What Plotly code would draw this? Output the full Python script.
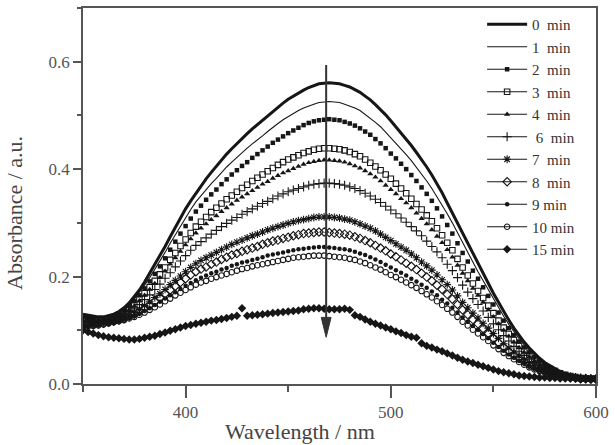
import plotly.graph_objects as go

# ---------------- data ----------------
wavelength = [350, 352.5, 355, 357.5, 360, 362.5, 365, 367.5, 370, 372.5,
              375, 377.5, 380, 382.5, 385, 387.5, 390, 392.5, 395, 397.5,
              400, 402.5, 405, 407.5, 410, 412.5, 415, 417.5, 420, 422.5,
              425, 427.5, 430, 432.5, 435, 437.5, 440, 442.5, 445, 447.5,
              450, 452.5, 455, 457.5, 460, 462.5, 465, 467.5, 470, 472.5,
              475, 477.5, 480, 482.5, 485, 487.5, 490, 492.5, 495, 497.5,
              500, 502.5, 505, 507.5, 510, 512.5, 515, 517.5, 520, 522.5,
              525, 527.5, 530, 532.5, 535, 537.5, 540, 542.5, 545, 547.5,
              550, 552.5, 555, 557.5, 560, 562.5, 565, 567.5, 570, 572.5,
              575, 577.5, 580, 582.5, 585, 587.5, 590, 592.5, 595, 597.5, 600]

abs_0min = [.130, .128, .126, .125, .125, .127, .130, .135, .142, .151,
            .162, .175, .190, .206, .222, .239, .256, .274, .292, .309,
            .326, .341, .355, .369, .382, .394, .406, .417, .428, .438,
            .448, .457, .466, .475, .483, .492, .500, .508, .516, .523,
            .530, .536, .542, .547, .552, .556, .559, .560, .561, .560,
            .559, .556, .553, .548, .543, .536, .529, .520, .511, .501,
            .490, .479, .468, .456, .444, .431, .418, .404, .389, .373,
            .356, .337, .318, .299, .280, .261, .242, .223, .205, .187,
            .169, .152, .135, .119, .104, .090, .078, .067, .057, .048,
            .040, .034, .028, .023, .019, .016, .014, .012, .011, .010, .010]

abs_1min = [.127, .125, .124, .124, .124, .126, .128, .133, .140, .148,
            .158, .170, .184, .198, .213, .229, .245, .262, .278, .294,
            .310, .325, .339, .351, .362, .373, .383, .394, .404, .413,
            .422, .431, .439, .447, .454, .462, .470, .478, .485, .492,
            .498, .504, .509, .514, .518, .521, .524, .525, .526, .525,
            .524, .521, .518, .514, .509, .502, .495, .487, .479, .469,
            .459, .449, .438, .427, .416, .404, .391, .378, .364, .349,
            .333, .317, .300, .281, .262, .244, .227, .209, .192, .175,
            .158, .142, .126, .111, .097, .085, .073, .063, .053, .045,
            .038, .032, .027, .022, .018, .016, .014, .012, .011, .010, .010]

abs_2min = [.125, .123, .122, .122, .122, .124, .127, .131, .137, .145,
            .154, .165, .178, .191, .205, .219, .234, .250, .265, .280,
            .294, .308, .321, .332, .343, .353, .362, .372, .381, .390,
            .398, .406, .413, .421, .428, .435, .442, .449, .455, .461,
            .467, .472, .477, .482, .486, .489, .491, .492, .493, .492,
            .491, .488, .485, .481, .476, .470, .464, .456, .448, .439,
            .429, .420, .410, .400, .389, .378, .366, .354, .341, .327,
            .312, .296, .280, .262, .244, .228, .211, .196, .180, .164,
            .148, .133, .118, .104, .091, .079, .068, .059, .050, .043,
            .036, .031, .026, .022, .018, .015, .013, .012, .011, .010, .010]

abs_3min = [.121, .120, .119, .119, .120, .122, .124, .128, .133, .140,
            .148, .158, .169, .180, .192, .204, .217, .231, .244, .257,
            .269, .281, .293, .302, .311, .320, .328, .336, .344, .351,
            .358, .365, .371, .378, .384, .390, .396, .402, .408, .413,
            .418, .422, .426, .430, .433, .436, .438, .439, .439, .438,
            .437, .435, .432, .428, .424, .418, .412, .405, .398, .390,
            .382, .373, .364, .355, .345, .335, .325, .314, .303, .290,
            .277, .263, .249, .233, .217, .202, .187, .173, .160, .146,
            .132, .118, .105, .093, .082, .071, .061, .053, .045, .039,
            .033, .028, .024, .020, .017, .015, .013, .011, .010, .010, .010]

abs_4min = [.119, .118, .118, .118, .119, .121, .123, .127, .132, .138,
            .145, .155, .165, .176, .187, .198, .210, .223, .235, .247,
            .259, .270, .281, .290, .298, .306, .313, .321, .328, .335,
            .342, .348, .354, .360, .366, .372, .377, .383, .388, .393,
            .397, .401, .405, .409, .412, .414, .416, .417, .417, .416,
            .415, .413, .410, .406, .402, .397, .391, .385, .378, .370,
            .362, .354, .345, .337, .328, .318, .308, .298, .287, .275,
            .263, .250, .236, .221, .206, .192, .178, .165, .152, .138,
            .125, .112, .100, .089, .078, .068, .059, .051, .043, .037,
            .032, .027, .023, .019, .016, .014, .013, .011, .010, .010, .010]

abs_6min = [.116, .116, .116, .116, .117, .119, .121, .125, .129, .134,
            .140, .148, .157, .166, .176, .186, .197, .207, .218, .229,
            .239, .249, .258, .265, .272, .279, .286, .293, .299, .305,
            .310, .316, .321, .326, .331, .336, .340, .345, .350, .354,
            .358, .361, .364, .367, .370, .372, .373, .374, .374, .373,
            .372, .370, .367, .364, .360, .355, .350, .344, .338, .331,
            .324, .317, .309, .301, .293, .285, .276, .266, .256, .246,
            .235, .223, .211, .198, .184, .171, .159, .148, .136, .124,
            .112, .101, .090, .080, .070, .061, .053, .046, .039, .034,
            .029, .025, .021, .018, .015, .013, .012, .011, .010, .010, .010]

abs_7min = [.111, .111, .112, .113, .114, .116, .118, .121, .124, .128,
            .133, .139, .146, .153, .161, .168, .176, .185, .193, .201,
            .209, .217, .224, .230, .235, .240, .245, .250, .255, .260,
            .264, .268, .272, .276, .279, .283, .287, .290, .293, .296,
            .299, .302, .304, .306, .308, .310, .311, .311, .311, .310,
            .309, .307, .305, .302, .298, .294, .290, .285, .279, .273,
            .267, .261, .255, .249, .242, .235, .227, .220, .212, .203,
            .194, .185, .175, .164, .152, .142, .132, .123, .113, .104,
            .094, .085, .075, .067, .059, .052, .045, .039, .034, .029,
            .025, .022, .019, .016, .014, .013, .012, .011, .010, .010, .009]

abs_8min = [.109, .110, .111, .112, .113, .115, .117, .119, .122, .126,
            .130, .135, .141, .147, .154, .161, .168, .175, .182, .189,
            .196, .203, .209, .214, .218, .223, .227, .232, .236, .240,
            .243, .247, .250, .253, .256, .260, .263, .266, .268, .271,
            .273, .276, .278, .280, .281, .282, .283, .283, .282, .281,
            .280, .279, .277, .274, .271, .267, .263, .258, .253, .248,
            .242, .237, .231, .225, .219, .213, .206, .199, .192, .184,
            .176, .167, .158, .148, .138, .129, .120, .112, .103, .094,
            .085, .077, .069, .061, .054, .048, .042, .036, .031, .027,
            .024, .021, .018, .015, .013, .012, .011, .010, .010, .009, .009]

abs_9min = [.107, .108, .109, .110, .112, .113, .115, .117, .120, .123,
            .127, .131, .136, .141, .147, .153, .159, .165, .171, .177,
            .183, .188, .193, .198, .202, .206, .209, .213, .216, .220,
            .223, .226, .228, .231, .233, .236, .239, .241, .243, .245,
            .247, .249, .251, .252, .253, .254, .255, .255, .254, .253,
            .252, .251, .249, .246, .243, .240, .236, .232, .227, .222,
            .217, .212, .207, .202, .196, .191, .185, .179, .172, .165,
            .157, .150, .142, .133, .124, .116, .108, .101, .093, .085,
            .077, .069, .062, .055, .049, .043, .038, .033, .029, .025,
            .022, .019, .017, .015, .013, .012, .011, .010, .010, .009, .009]

abs_10min = [.106, .107, .108, .109, .111, .113, .115, .117, .119, .122,
             .125, .129, .133, .138, .143, .148, .154, .159, .165, .170,
             .175, .180, .185, .189, .192, .196, .199, .202, .205, .208,
             .211, .214, .216, .219, .221, .223, .225, .227, .229, .231,
             .233, .235, .236, .237, .238, .239, .239, .239, .238, .237,
             .236, .235, .233, .231, .228, .225, .221, .217, .213, .208,
             .203, .199, .194, .189, .184, .179, .173, .167, .161, .154,
             .147, .140, .133, .125, .116, .109, .101, .094, .087, .080,
             .072, .065, .058, .052, .046, .041, .036, .031, .027, .024,
             .021, .018, .016, .014, .013, .012, .011, .010, .010, .009, .009]

abs_15min = [.100, .097, .094, .091, .089, .087, .086, .085, .084, .083,
             .083, .084, .086, .088, .090, .093, .096, .099, .102, .105,
             .108, .110, .112, .114, .116, .118, .119, .121, .123, .125,
             .127, .141, .127, .128, .129, .130, .131, .132, .133, .134,
             .135, .136, .137, .139, .140, .141, .141, .140, .139, .139,
             .139, .140, .138, .128, .125, .120, .116, .112, .109, .105,
             .102, .098, .095, .091, .088, .086, .076, .071, .068, .064,
             .061, .057, .053, .049, .045, .042, .039, .036, .033, .030,
             .027, .024, .022, .020, .018, .016, .015, .014, .013, .012,
             .012, .011, .011, .010, .010, .010, .010, .009, .009, .009, .009]

legend_names = ["0\u00a0\u00a0min", "1\u00a0\u00a0min", "2\u00a0\u00a0min",
                "3\u00a0\u00a0min", "4\u00a0\u00a0min", "\u00a06\u00a0\u00a0min",
                "7\u00a0\u00a0min", "8\u00a0\u00a0min", "9\u00a0min",
                "10\u00a0min", "15\u00a0min"]

x_ticks_major = [400, 500, 600]
y_ticks_major = [0.0, 0.2, 0.4, 0.6]

# arrow showing the decrease (data units)
arrow_x = 468.5
arrow_top = 0.594
arrow_tip = 0.087

# ---------------- styling ----------------
INK = "#161616"
AXIS = "#555555"
FONT = "Liberation Serif, Times New Roman, DejaVu Serif, serif"

marker_styles = [
    # (symbol, size, outline width)
    ("square", 4.5, 0),
    ("square-open", 5.5, 1.1),
    ("triangle-up", 5.5, 0),
    ("cross-thin-open", 6.5, 1.1),
    ("asterisk-open", 6.5, 1.1),
    ("diamond-open", 6.5, 1.1),
    ("circle", 4.5, 0),
    ("circle-open", 5.5, 1.1),
    ("diamond", 6.5, 0),
]

fig = go.Figure()

# solid-line spectra
fig.add_trace(go.Scatter(x=wavelength, y=abs_0min, mode="lines", name=legend_names[0],
                         line=dict(color=INK, width=3)))
fig.add_trace(go.Scatter(x=wavelength, y=abs_1min, mode="lines", name=legend_names[1],
                         line=dict(color=INK, width=1.1)))

marker_series = [abs_2min, abs_3min, abs_4min, abs_6min, abs_7min,
                 abs_8min, abs_9min, abs_10min, abs_15min]

for i, (vals, (sym, size, lw)) in enumerate(zip(marker_series, marker_styles)):
    name = legend_names[i + 2]
    mk = dict(symbol=sym, size=size, color=INK, line=dict(color=INK, width=lw))
    # legend entry (line + marker sample)
    fig.add_trace(go.Scatter(x=[None], y=[None], mode="lines+markers", name=name,
                             legendgroup=name, line=dict(color=INK, width=1.2),
                             marker=mk))
    # the measured spectrum itself
    fig.add_trace(go.Scatter(x=wavelength, y=vals, mode="markers", name=name,
                             legendgroup=name, showlegend=False, marker=mk))

# arrow: shaft + head
head_len = 0.037
head_half = 2.4
fig.add_shape(type="line", x0=arrow_x, x1=arrow_x, y0=arrow_top, y1=arrow_tip + head_len * 0.5,
              xref="x", yref="y", line=dict(color="#333333", width=2))
fig.add_shape(type="path", xref="x", yref="y",
              path=f"M {arrow_x - head_half},{arrow_tip + head_len} L {arrow_x + head_half},{arrow_tip + head_len} L {arrow_x},{arrow_tip} Z",
              fillcolor="#333333", line=dict(color="#333333", width=1))

# axis titles
fig.add_annotation(text="Absorbance / a.u.", xref="paper", yref="paper",
                   x=-0.1326, y=0.455, xanchor="center", yanchor="middle",
                   textangle=-90, showarrow=False,
                   font=dict(family=FONT, size=22, color="#444444"))
fig.add_annotation(text="Wavelength / nm", xref="paper", yref="paper",
                   x=(300 - 83) / 513, y=-0.1265, xanchor="center", yanchor="middle",
                   showarrow=False, font=dict(family=FONT, size=22, color="#444444"))

fig.update_layout(
    width=615, height=445,
    margin=dict(l=83, r=19, t=6, b=61),
    paper_bgcolor="white", plot_bgcolor="white",
    showlegend=True,
    legend=dict(x=0.778, xanchor="left", y=1.0, yanchor="top",
                bgcolor="rgba(0,0,0,0)", borderwidth=0,
                font=dict(family=FONT, size=15, color="#333333"),
                itemwidth=40, tracegroupgap=0),
    font=dict(family=FONT),
)

fig.update_xaxes(range=[350, 600], tickmode="array", tickvals=x_ticks_major,
                 ticks="outside", ticklen=12, tickwidth=1.5, tickcolor=AXIS,
                 minor=dict(dtick=50, tick0=350, ticks="outside", ticklen=6,
                            tickwidth=1.5, tickcolor=AXIS),
                 showline=True, linecolor=AXIS, linewidth=1.5, mirror=True,
                 showgrid=False, zeroline=False,
                 tickfont=dict(family=FONT, size=17, color="#555555"))
fig.update_yaxes(range=[0, 0.7], tickmode="array", tickvals=y_ticks_major,
                 tickformat=".1f",
                 ticks="outside", ticklen=8, tickwidth=1.5, tickcolor=AXIS,
                 minor=dict(dtick=0.1, tick0=0, ticks="outside", ticklen=4,
                            tickwidth=1.5, tickcolor=AXIS),
                 showline=True, linecolor=AXIS, linewidth=1.5, mirror=True,
                 showgrid=False, zeroline=False,
                 tickfont=dict(family=FONT, size=17, color="#555555"))

fig.write_html("out.html")
